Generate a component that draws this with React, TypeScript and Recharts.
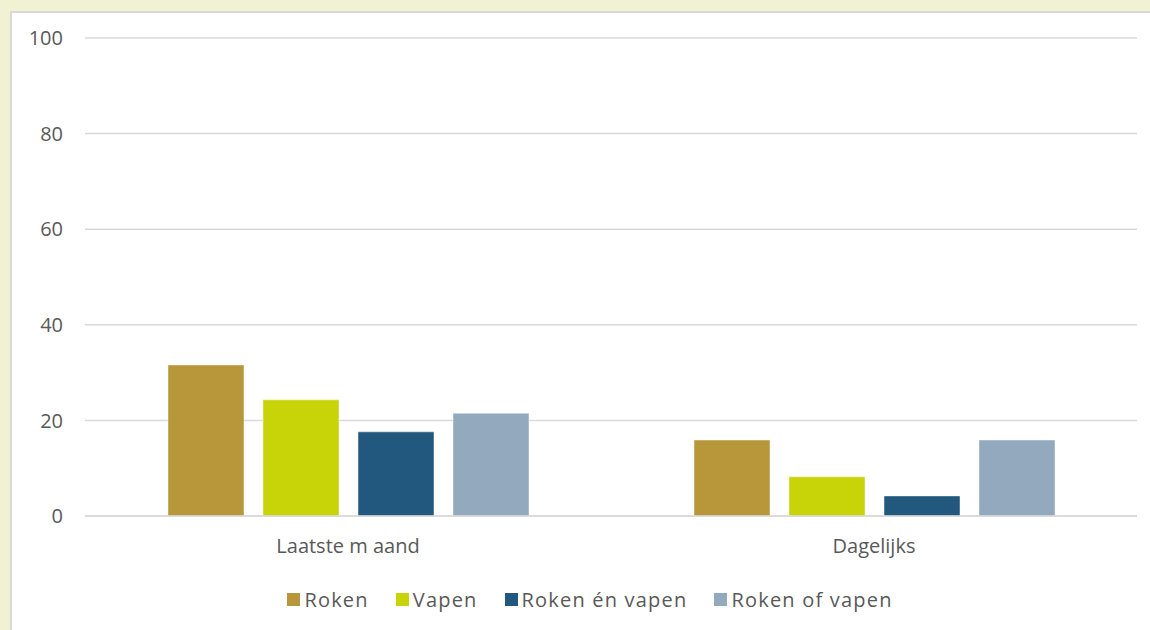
import React from 'react';
import { BarChart, Bar, XAxis, YAxis, CartesianGrid } from 'recharts';

const categories = ['Laatste m aand', 'Dagelijks'];
const roken = [31.6, 15.9];
const vapen = [24.3, 8.2];
const rokenEnVapen = [17.6, 4.2];
const rokenOfVapen = [21.5, 15.9];
const yTicks = [0, 20, 40, 60, 80, 100];

const series = [
  { key: 'roken', name: 'Roken', color: '#B8963A', values: roken },
  { key: 'vapen', name: 'Vapen', color: '#C8D308', values: vapen },
  { key: 'beide', name: 'Roken én vapen', color: '#22587E', values: rokenEnVapen },
  { key: 'een', name: 'Roken of vapen', color: '#93A9BE', values: rokenOfVapen },
];

const data = categories.map((cat, i) => {
  const row: Record<string, string | number> = { cat };
  series.forEach((s) => {
    row[s.key] = s.values[i];
  });
  return row;
});

const font = '"Open Sans", "DejaVu Sans", sans-serif';

const LegendBox = () => (
  <div
    style={{
      position: 'absolute',
      left: 0,
      top: 586,
      width: 1207,
      display: 'flex',
      justifyContent: 'center',
      fontFamily: font,
      fontSize: 20,
      letterSpacing: 1.2,
      color: '#595959',
    }}
  >
    {series.map((s) => (
      <div key={s.key} style={{ display: 'flex', alignItems: 'center', marginRight: 27 }}>
        <span style={{ width: 13, height: 13, background: s.color, display: 'inline-block', marginRight: 4 }} />
        <span>{s.name}</span>
      </div>
    ))}
  </div>
);

export default function App() {
  return (
    <div style={{ position: 'fixed', left: 0, top: 0, width: 1150, height: 630, background: '#F1F2D4', overflow: 'hidden' }}>
      <div
        style={{
          position: 'absolute',
          left: 10,
          top: 11,
          width: 1150,
          height: 630,
          background: '#fff',
          borderLeft: '2px solid #D9D9D9',
          borderTop: '2px solid #D9D9D9',
        }}
      />
      <div style={{ position: 'absolute', left: 0, top: 0 }}>
        <BarChart
          width={1150}
          height={630}
          data={data}
          margin={{ top: 38, right: 13, left: 0, bottom: 84 }}
          barSize={76}
          barGap={19}
        >
          <CartesianGrid vertical={false} stroke="#D9D9D9" strokeWidth={1.5} />
          <XAxis
            dataKey="cat"
            height={30}
            tickLine={false}
            axisLine={{ stroke: '#D9D9D9', strokeWidth: 1.5 }}
            tickSize={0}
            tickMargin={23}
            tick={{ fill: '#595959', fontSize: 20, fontFamily: font }}
          />
          <YAxis
            domain={[0, 100]}
            ticks={yTicks}
            width={85}
            axisLine={false}
            tickLine={false}
            tickSize={0}
            tickMargin={22}
            tick={{ fill: '#595959', fontSize: 20, fontFamily: font }}
          />
          {series.map((s) => (
            <Bar
              key={s.key}
              dataKey={s.key}
              name={s.name}
              fill={s.color}
              stroke="rgba(255,255,255,0.45)"
              strokeWidth={1}
              isAnimationActive={false}
            />
          ))}
        </BarChart>
      </div>
      <LegendBox />
    </div>
  );
}
